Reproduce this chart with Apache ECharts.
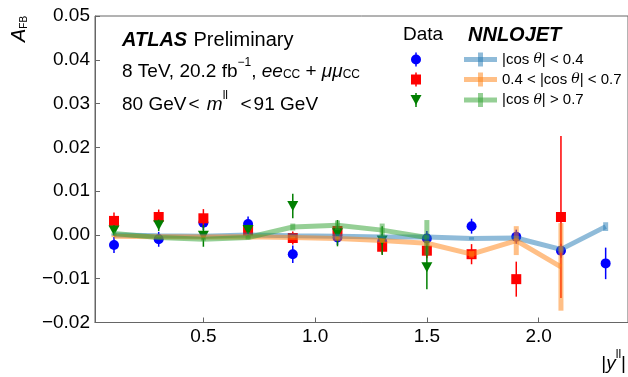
<!DOCTYPE html>
<html>
<head>
<meta charset="utf-8">
<script src="https://cdn.jsdelivr.net/npm/echarts@6/dist/echarts.min.js"></script>
<style>html,body{margin:0;padding:0;background:#fff}#c{width:628px;height:377px}</style>
</head>
<body>
<div id="c"></div>
<script>
// ---- data ----
const binX = [0.1, 0.3, 0.5, 0.7, 0.9, 1.1, 1.3, 1.5, 1.7, 1.9, 2.1, 2.3];
const dataLow = [-0.0023, -0.0010, 0.0028, 0.0025, -0.0044, -0.0006, -0.0015, -0.0008, 0.0020, -0.0004, -0.0036, -0.0065];
const dataLowErr = [0.0018, 0.0017, 0.0017, 0.0017, 0.0020, 0.0017, 0.0017, 0.0017, 0.0017, 0.0016, 0.0016, 0.0036];
const dataMid = [0.0032, 0.0041, 0.0038, 0.0010, -0.0007, 0.0009, -0.0027, -0.0036, -0.0044, -0.0101, 0.0041];
const dataMidErr = [0.0019, 0.0017, 0.0021, 0.0012, 0.0015, 0.0015, 0.0016, 0.0017, 0.0023, 0.0040, 0.0185];
const dataHigh = [0.0010, 0.0022, -0.0002, 0.0011, 0.0066, 0.0004, -0.0013, -0.0074];
const dataHighErr = [0.0012, 0.0013, 0.0025, 0.0012, 0.0028, 0.0030, 0.0033, 0.0050];
const thLow = [0.0000, -0.0002, -0.0003, 0.0000, -0.0002, -0.0003, -0.0005, -0.0005, -0.0008, -0.0007, -0.0033, 0.0019];
const thLowErr = [0.0002, 0.0002, 0.0002, 0.0002, 0.0002, 0.0002, 0.0002, 0.0003, 0.0003, 0.0004, 0.0008, 0.0010];
const thMid = [-0.0003, -0.0004, -0.0005, -0.0004, -0.0006, -0.0008, -0.0013, -0.0019, -0.0044, -0.0013, -0.0073];
const thMidErr = [0.0002, 0.0002, 0.0002, 0.0002, 0.0002, 0.0003, 0.0004, 0.0005, 0.0008, 0.0033, 0.0100];
const thHigh = [0.0003, -0.0006, -0.0010, -0.0006, 0.0018, 0.0022, 0.0011, -0.0006];
const thHighErr = [0.0002, 0.0002, 0.0003, 0.0004, 0.0008, 0.0011, 0.0015, 0.0040];
const xTicks = [0.5, 1.0, 1.5, 2.0];
const yTicks = [-0.02, -0.01, 0.00, 0.01, 0.02, 0.03, 0.04, 0.05];

const FONT = 'Liberation Sans';
const C_BLUE = '#0000ff', C_RED = '#ff0000', C_GREEN = '#007f00';
const T_BLUE = '#1f77b4', T_ORANGE = '#ff7f0e', T_GREEN = '#2ca02c';

function pts(vals) { return vals.map((v, i) => [binX[i], v]); }
function errPts(vals, errs) { return vals.map((v, i) => [binX[i], v, errs[i]]); }

function errSeries(vals, errs, color, width, opacity, z) {
  return {
    type: 'custom', z: z, silent: true, clip: false,
    encode: { x: 0, y: 1 },
    data: errPts(vals, errs),
    renderItem: function (params, api) {
      const x = api.value(0), y = api.value(1), e = api.value(2);
      const p1 = api.coord([x, y - e]), p2 = api.coord([x, y + e]);
      return { type: 'line', shape: { x1: p1[0], y1: p1[1], x2: p2[0], y2: p2[1] },
               style: { stroke: color, lineWidth: width, opacity: opacity } };
    }
  };
}
function dataSeries(vals, color, symbol, size, rot, z) {
  return { type: 'scatter', z: z, data: pts(vals), symbol: symbol, symbolSize: size,
           symbolRotate: rot, itemStyle: { color: color, opacity: 1 }, silent: true };
}
function theorySeries(vals, color, z) {
  return { type: 'line', z: z, data: pts(vals), symbol: 'none', silent: true,
           lineStyle: { color: color, width: 5, opacity: 0.5 } };
}

const chart = echarts.init(document.getElementById('c'), null, { renderer: 'canvas' });

const legendX = 416;
const legendRows = [59.5, 79.5, 100];
const graphics = [];
// data legend markers
graphics.push({ type: 'line', shape: { x1: legendX, y1: legendRows[0] - 7, x2: legendX, y2: legendRows[0] + 7 }, style: { stroke: C_BLUE, lineWidth: 1.5 } });
graphics.push({ type: 'circle', shape: { cx: legendX, cy: legendRows[0], r: 5 }, style: { fill: C_BLUE } });
graphics.push({ type: 'line', shape: { x1: legendX, y1: legendRows[1] - 7, x2: legendX, y2: legendRows[1] + 7 }, style: { stroke: C_RED, lineWidth: 1.5 } });
graphics.push({ type: 'rect', shape: { x: legendX - 5, y: legendRows[1] - 5, width: 10, height: 10 }, style: { fill: C_RED } });
graphics.push({ type: 'line', shape: { x1: legendX, y1: legendRows[2] - 7, x2: legendX, y2: legendRows[2] + 7 }, style: { stroke: C_GREEN, lineWidth: 1.5 } });
graphics.push({ type: 'polygon', shape: { points: [[legendX - 5.5, legendRows[2] - 5], [legendX + 5.5, legendRows[2] - 5], [legendX, legendRows[2] + 5]] }, style: { fill: C_GREEN } });
// theory legend markers
[[T_BLUE, 0], [T_ORANGE, 1], [T_GREEN, 2]].forEach(([c, i]) => {
  const y = legendRows[i];
  graphics.push({ type: 'line', shape: { x1: 464, y1: y, x2: 497, y2: y }, style: { stroke: c, lineWidth: 5, opacity: 0.5 } });
  graphics.push({ type: 'line', shape: { x1: 480.5, y1: y - 7, x2: 480.5, y2: y + 7 }, style: { stroke: c, lineWidth: 5, opacity: 0.5 } });
});
const lgRich = {
  n: { fontFamily: FONT, fontSize: 15, fill: '#000' },
  t: { fontFamily: 'DejaVu Serif', fontStyle: 'italic', fontSize: 14, fill: '#000' }
};
graphics.push({ type: 'text', x: 502, y: legendRows[0], style: { text: '{n||cos }{t|θ}{n|| < 0.4}', rich: lgRich, verticalAlign: 'middle' } });
graphics.push({ type: 'text', x: 502, y: legendRows[1], style: { text: '{n|0.4 < |cos }{t|θ}{n|| < 0.7}', rich: lgRich, verticalAlign: 'middle' } });
graphics.push({ type: 'text', x: 502, y: legendRows[2], style: { text: '{n||cos }{t|θ}{n|| > 0.7}', rich: lgRich, verticalAlign: 'middle' } });
graphics.push({ type: 'text', x: 403, y: 35, style: { text: 'Data', fontFamily: FONT, fontSize: 19, fill: '#000', verticalAlign: 'middle' } });
graphics.push({ type: 'text', x: 468, y: 35, style: { text: 'NNLOJET', fontFamily: FONT, fontSize: 20, fontWeight: 'bold', fontStyle: 'italic', fill: '#000', verticalAlign: 'middle' } });

// annotations
graphics.push({ type: 'text', x: 122, y: 40, style: {
  text: '{a|ATLAS} {b|Preliminary}', verticalAlign: 'middle',
  rich: { a: { fontFamily: FONT, fontSize: 20, fontWeight: 'bold', fontStyle: 'italic', fill: '#000', padding: [0, 3, 0, 0] },
          b: { fontFamily: FONT, fontSize: 20, fill: '#000' } } } });
const annRich = {
  n: { fontFamily: FONT, fontSize: 19, fill: '#000', lineHeight: 24, verticalAlign: 'bottom' },
  i: { fontFamily: FONT, fontSize: 19, fontStyle: 'italic', fill: '#000', lineHeight: 24, verticalAlign: 'bottom' },
  sub: { fontFamily: FONT, fontSize: 12, fill: '#000', lineHeight: 13, verticalAlign: 'bottom' },
  sup: { fontFamily: FONT, fontSize: 12, fill: '#000', lineHeight: 13, verticalAlign: 'top' },
  sp: { fontFamily: FONT, fontSize: 19, fill: '#000', lineHeight: 24, verticalAlign: 'bottom', padding: [0, 2, 0, 2] }
};
graphics.push({ type: 'text', x: 122, y: 69, style: {
  text: '{n|8 TeV, 20.2 fb}{sup|−1}{n|, }{i|ee}{sub|CC}{n| + }{i|μμ}{sub|CC}', verticalAlign: 'middle', rich: annRich } });
graphics.push({ type: 'text', x: 122, y: 102, style: {
  text: '{n|80 GeV}{sp|<}{n| }{i|m}{sup|ll}{n|  }{sp|<}{n|91 GeV}', verticalAlign: 'middle', rich: annRich } });
// axis titles
graphics.push({ type: 'text', x: 17, y: 29, rotation: Math.PI / 2, style: {
  text: '{i|A}{sub|FB}', align: 'center', verticalAlign: 'middle',
  rich: { i: { fontFamily: FONT, fontSize: 20, fontStyle: 'italic', fill: '#000', lineHeight: 24, verticalAlign: 'bottom' },
          sub: { fontFamily: FONT, fontSize: 10, fill: '#000', lineHeight: 12, verticalAlign: 'bottom' } } } });
graphics.push({ type: 'text', x: 626, y: 361, style: {
  text: '{n||}{i|y}{sup|ll}{n||}', align: 'right', verticalAlign: 'middle', rich: annRich } });

const option = {
  animation: false,
  backgroundColor: '#fff',
  grid: { left: 95, right: -2, top: 16, bottom: 54.5, show: true, borderColor: '#666', borderWidth: 1, backgroundColor: 'transparent' },
  xAxis: {
    type: 'value', min: 0.015, max: 2.4,
    axisLine: { show: true, onZero: false, lineStyle: { color: '#666', width: 1 } },
    splitLine: { show: false },
    axisTick: { show: true, inside: true, length: 5, customValues: xTicks, lineStyle: { color: '#666' } },
    axisLabel: { customValues: xTicks, formatter: v => v.toFixed(1), fontFamily: FONT, fontSize: 19, color: '#000', margin: 5 }
  },
  yAxis: {
    type: 'value', min: -0.02, max: 0.05, interval: 0.01,
    axisLine: { show: true, onZero: false, lineStyle: { color: '#666', width: 1 } },
    splitLine: { show: false },
    axisTick: { show: true, inside: true, length: 5, customValues: yTicks, lineStyle: { color: '#666' } },
    axisLabel: { customValues: yTicks, formatter: v => (v < 0 ? '\u2212' : '') + Math.abs(v).toFixed(2), fontFamily: FONT, fontSize: 19, color: '#000', margin: 5 }
  },
  series: [
    errSeries(dataLow, dataLowErr, C_BLUE, 1.5, 1, 2),
    dataSeries(dataLow, C_BLUE, 'circle', 10, 0, 3),
    errSeries(dataMid, dataMidErr, C_RED, 1.5, 1, 4),
    dataSeries(dataMid, C_RED, 'rect', 10, 0, 5),
    errSeries(dataHigh, dataHighErr, C_GREEN, 1.5, 1, 6),
    dataSeries(dataHigh, C_GREEN, 'triangle', [11, 10], 180, 7),
    theorySeries(thLow, T_BLUE, 8),
    errSeries(thLow, thLowErr, T_BLUE, 5, 0.5, 8),
    theorySeries(thMid, T_ORANGE, 9),
    errSeries(thMid, thMidErr, T_ORANGE, 5, 0.5, 9),
    theorySeries(thHigh, T_GREEN, 10),
    errSeries(thHigh, thHighErr, T_GREEN, 5, 0.5, 10)
  ],
  graphic: graphics
};
chart.setOption(option);
</script>
</body>
</html>
